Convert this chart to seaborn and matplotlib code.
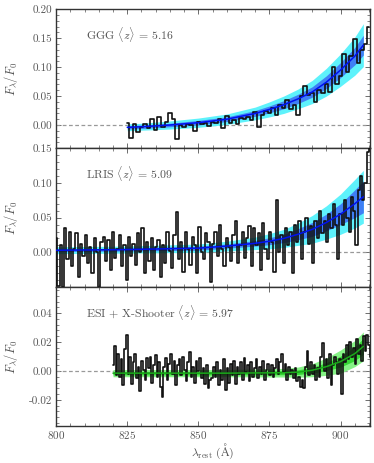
import numpy as np
import pandas as pd
import matplotlib
matplotlib.use("Agg")
import matplotlib.pyplot as plt
import seaborn as sns

# ---------------- data ----------------
ggg_start, ggg_step = 825.0, 1.25
ggg_flux = [0.003, -0.022, 0.002, -0.012, -0.004, 0.001, -0.006, 0.010, -0.008, 0.013,
            -0.003, 0.006, 0.020, 0.011, -0.024, 0.000, -0.003, 0.002, 0.000, -0.010,
            0.006, 0.001, 0.004, -0.002, 0.005, 0.003, 0.010, -0.005, 0.016, 0.004,
            0.008, 0.002, 0.012, 0.010, 0.014, 0.008, 0.022, -0.004, 0.017, 0.025,
            0.020, 0.030, 0.018, 0.034, 0.029, 0.044, 0.027, 0.035, 0.017, 0.050,
            0.068, 0.052, 0.056, 0.040, 0.060, 0.055, 0.070, 0.057, 0.100, 0.070,
            0.085, 0.122, 0.092, 0.120, 0.148, 0.108, 0.130, 0.140, 0.170]
ggg_model_wave = [825, 830, 840, 850, 860, 870, 875, 880, 885, 890, 895, 900, 905, 908]
ggg_model_med = [-0.004, -0.003, 0.000, 0.004, 0.010, 0.020, 0.027, 0.035, 0.045, 0.057, 0.074, 0.095, 0.119, 0.138]
ggg_model_in = [0.003, 0.003, 0.003, 0.004, 0.004, 0.005, 0.006, 0.007, 0.008, 0.009, 0.011, 0.013, 0.015, 0.017]
ggg_model_out = [0.006, 0.006, 0.007, 0.008, 0.009, 0.011, 0.013, 0.015, 0.017, 0.020, 0.024, 0.028, 0.033, 0.037]

lris_start, lris_step = 800.0, 0.8
lris_flux = [0.020, -0.048, 0.010, -0.050, 0.035, -0.010, 0.030, -0.020, 0.005, 0.028,
             -0.035, 0.012, -0.005, 0.025, -0.015, 0.008, -0.030, 0.020, 0.000, -0.050,
             0.015, 0.022, -0.012, 0.018, -0.025, 0.030, -0.008, 0.005, 0.025, -0.020,
             0.010, -0.040, 0.022, -0.005, 0.012, -0.018, 0.028, 0.000, 0.035, -0.030,
             0.015, -0.012, 0.020, -0.025, 0.008, 0.018, -0.035, 0.010, -0.015, 0.030,
             0.002, -0.022, 0.025, 0.058, -0.010, 0.015, -0.028, 0.030, 0.005, -0.018,
             0.022, 0.010, -0.030, 0.036, 0.000, -0.010, 0.028, 0.015, -0.042, 0.012,
             0.030, -0.005, 0.040, 0.005, -0.020, 0.020, 0.008, -0.012, 0.025, 0.045,
             -0.015, 0.010, 0.030, -0.008, 0.020, 0.038, -0.020, 0.035, 0.010, 0.028,
             -0.025, 0.042, 0.005, -0.010, 0.030, 0.015, -0.028, 0.076, 0.000, 0.025,
             -0.015, 0.035, 0.010, 0.030, -0.030, 0.040, 0.015, 0.045, -0.010, 0.030,
             0.050, 0.012, 0.038, -0.015, 0.045, 0.020, 0.060, 0.028, 0.045, 0.015,
             0.055, 0.035, 0.070, 0.040, -0.010, 0.055, 0.040, 0.075, 0.050, 0.030,
             0.080, 0.060, 0.010, 0.090, 0.110, 0.075, 0.100, 0.145, 0.150]
lris_model_wave = [800, 825, 850, 860, 870, 875, 880, 885, 890, 895, 900, 905, 908]
lris_model_med = [0.003, 0.004, 0.006, 0.009, 0.013, 0.016, 0.020, 0.026, 0.033, 0.043, 0.055, 0.070, 0.080]
lris_model_in = [0.002, 0.002, 0.003, 0.003, 0.004, 0.005, 0.006, 0.008, 0.010, 0.012, 0.015, 0.020, 0.023]
lris_model_out = [0.005, 0.005, 0.006, 0.007, 0.009, 0.011, 0.013, 0.016, 0.020, 0.024, 0.029, 0.035, 0.038]

esi_start, esi_step = 820.0, 0.6
esi_flux = [0.004, 0.017, -0.003, 0.012, -0.004, 0.008, -0.010, 0.015, 0.025, -0.002,
            0.010, -0.009, 0.006, 0.012, -0.005, 0.003, -0.014, 0.007, 0.001, -0.006,
            0.009, 0.002, 0.010, -0.008, 0.004, 0.011, -0.004, 0.006, -0.011, -0.018,
            0.003, 0.009, -0.006, 0.005, 0.012, -0.002, 0.007, -0.010, 0.004, 0.008,
            -0.003, 0.010, 0.001, -0.007, 0.006, 0.013, -0.004, 0.003, -0.008, 0.007,
            0.000, 0.009, -0.005, 0.002, -0.009, 0.004, -0.012, -0.006, -0.005, 0.003,
            -0.004, 0.006, -0.010, 0.001, -0.006, 0.008, -0.013, 0.002, -0.008, 0.005,
            -0.003, 0.007, -0.009, 0.003, -0.002, 0.006, -0.006, 0.009, -0.001, 0.004,
            -0.007, 0.006, -0.004, 0.002, 0.008, -0.005, 0.003, -0.002, 0.007, -0.006,
            0.001, 0.005, -0.003, 0.004, -0.004, 0.002, 0.008, -0.002, 0.006, 0.012,
            -0.001, 0.005, -0.006, 0.003, -0.002, 0.001, -0.005, 0.002, -0.007, -0.004,
            -0.011, -0.006, -0.012, 0.003, 0.014, -0.003, 0.006, -0.002, 0.004, -0.006,
            0.002, -0.004, 0.010, 0.019, 0.000, 0.008, -0.005, 0.012, -0.010, 0.004,
            0.010, 0.006, -0.002, 0.008, -0.016, 0.012, 0.006, 0.018, 0.008, 0.020,
            0.010, 0.016, 0.005, 0.022, 0.012, 0.018, 0.007, 0.024, 0.014, 0.025,
            0.018, 0.010]
esi_model_wave = [820, 840, 860, 880, 885, 890, 895, 900, 905, 908]
esi_model_med = [-0.0015, -0.0015, -0.0015, -0.0012, -0.0008, 0.0005, 0.003, 0.0065, 0.012, 0.017]
esi_model_in = [0.0012, 0.0012, 0.0012, 0.0014, 0.0016, 0.002, 0.0028, 0.0038, 0.0048, 0.0055]
esi_model_out = [0.0025, 0.0025, 0.0025, 0.003, 0.0035, 0.0045, 0.006, 0.008, 0.009, 0.010]

labels = [r"GGG $\langle z\rangle$ = 5.16",
          r"LRIS $\langle z\rangle$ = 5.09",
          r"ESI + X-Shooter $\langle z\rangle$ = 5.97"]
ylims = [(-0.04, 0.20), (-0.05, 0.15), (-0.038, 0.058)]
yticks = [[0.0, 0.05, 0.10, 0.15, 0.20], [0.0, 0.05, 0.10, 0.15], [-0.02, 0.0, 0.02, 0.04]]
xticks = [800, 825, 850, 875, 900]

# ---------------- style ----------------
sns.set_theme(style="ticks")
plt.rcParams.update({
    "font.family": ["cmr10", "DejaVu Serif"],
    "mathtext.fontset": "cm",
    "axes.formatter.use_mathtext": True,
    "axes.unicode_minus": True,
    "text.color": "#555555",
    "axes.labelcolor": "#555555",
    "xtick.color": "#555555",
    "ytick.color": "#555555",
    "axes.edgecolor": "#333333",
})

fig, axes = plt.subplots(3, 1, figsize=(3.74, 4.63), dpi=100, sharex=True)
fig.subplots_adjust(left=0.150, right=0.989, top=0.980, bottom=0.080, hspace=0)

specs = [
    (ggg_start, ggg_step, ggg_flux, ggg_model_wave, ggg_model_med, ggg_model_in, ggg_model_out,
     "#5ef2fb", "#3f7ff5", "#0010f0"),
    (lris_start, lris_step, lris_flux, lris_model_wave, lris_model_med, lris_model_in, lris_model_out,
     "#5ef2fb", "#3f7ff5", "#0010f0"),
    (esi_start, esi_step, esi_flux, esi_model_wave, esi_model_med, esi_model_in, esi_model_out,
     "#86f286", "#36d636", "#1aa81a"),
]

for k, ax in enumerate(axes):
    st, stp, fl, mw, mm, mi, mo, c_out, c_in, c_med = specs[k]
    wave = st + stp * np.arange(len(fl))
    mw = np.asarray(mw, float); mm = np.asarray(mm); mi = np.asarray(mi); mo = np.asarray(mo)
    ax.axhline(0, color="#999999", lw=0.9, ls=(0, (3, 2)), zorder=1)
    ax.fill_between(mw, mm - mo, mm + mo, color=c_out, lw=0, zorder=2)
    ax.fill_between(mw, mm - mi, mm + mi, color=c_in, lw=0, zorder=3)
    df = pd.DataFrame({"wave": wave, "flux": fl})
    sns.lineplot(data=df, x="wave", y="flux", ax=ax, color="#111111", lw=1.2,
                 drawstyle="steps-mid", zorder=4, estimator=None)
    sns.lineplot(x=mw, y=mm, ax=ax, color=c_med, lw=1.1, zorder=5, estimator=None)
    ax.set_xlim(800, 910.3)
    ax.set_ylim(*ylims[k])
    ax.set_yticks(yticks[k])
    ax.yaxis.set_major_formatter(matplotlib.ticker.FormatStrFormatter("%.2f"))
    ax.set_xticks(xticks)
    ax.xaxis.set_minor_locator(matplotlib.ticker.AutoMinorLocator(5))
    ax.yaxis.set_minor_locator(matplotlib.ticker.AutoMinorLocator(5))
    ax.tick_params(which="both", direction="in", top=True, right=True, labelsize=8, pad=2.5)
    ax.tick_params(which="major", length=3.5, width=0.6)
    ax.tick_params(which="minor", length=2, width=0.5)
    for s in ax.spines.values():
        s.set_linewidth(1.0)
    ax.set_ylabel(r"$F_\lambda/F_0$", fontsize=9)
    ax.set_xlabel("")
    ax.text(0.095, 0.78, labels[k], transform=ax.transAxes, fontsize=8.5, color="#555555")

axes[2].set_xlabel(r"$\lambda_{\rm rest}$ ($\mathrm{\AA}$)", fontsize=8.5, labelpad=0)
for ax in axes:
    ax.yaxis.set_label_coords(-0.115, 0.5)

fig.savefig("out.png", dpi=100)
